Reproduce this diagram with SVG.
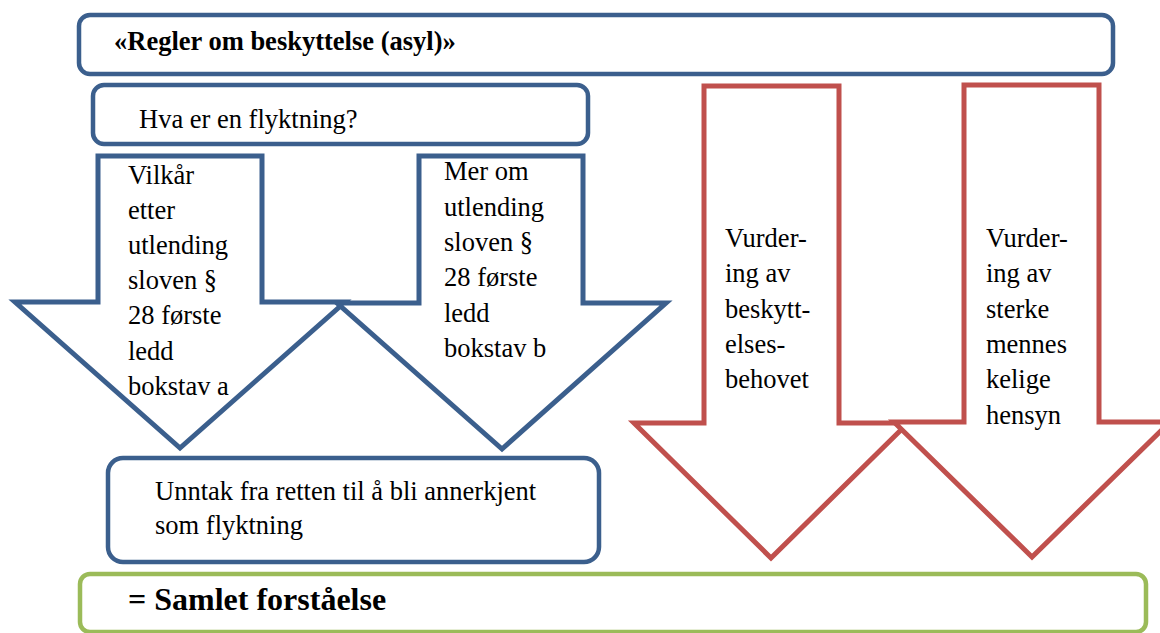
<svg xmlns="http://www.w3.org/2000/svg" width="1160" height="633" viewBox="0 0 1160 633" font-family="'Liberation Serif', 'DejaVu Serif', serif">
<style>
  .box { fill: #ffffff; stroke-width: 4.5; }
  .blue { stroke: #3B5F8D; }
  .red { stroke: #C0504D; }
  .green { stroke: #9BBB59; }
  .arrow { fill: #ffffff; stroke-width: 5; stroke-linejoin: miter; }
  text { font-family: 'Liberation Serif', 'DejaVu Serif', serif; font-size: 26.5px; fill: #000000; }
  .bold { font-weight: bold; }
  .big { font-size: 32px; font-weight: bold; }
</style>
<rect width="1160" height="633" fill="#ffffff"/>
<g id="connectors"></g>
<g id="title">
  <rect class="box blue" x="79" y="15" width="1034" height="59" rx="11"/>
  <text class="bold" x="114" y="50">«Regler om beskyttelse (asyl)»</text>
</g>
<g id="hva">
  <rect class="box blue" x="93" y="85" width="495" height="59" rx="11"/>
  <text x="139" y="128">Hva er en flyktning?</text>
</g>
<g id="arrow-a">
  <polygon class="arrow blue" points="98,156 262,156 262,302 345,302 180,448 15,302 98,302"/>
  <text x="128" y="183.5">Vilkår</text>
  <text x="128" y="218.7">etter</text>
  <text x="128" y="253.9">utlending</text>
  <text x="128" y="289.1">sloven §</text>
  <text x="128" y="324.3">28 første</text>
  <text x="128" y="359.5">ledd</text>
  <text x="128" y="394.7">bokstav a</text>
</g>
<g id="arrow-b">
  <polygon class="arrow blue" points="419,156 583,156 583,303 666,303 502,449 337,303 419,303"/>
  <text x="444" y="180.3">Mer om</text>
  <text x="444" y="215.6">utlending</text>
  <text x="444" y="250.9">sloven §</text>
  <text x="444" y="286.2">28 første</text>
  <text x="444" y="321.5">ledd</text>
  <text x="444" y="356.8">bokstav b</text>
</g>
<g id="arrow-beskyttelse">
  <polygon class="arrow red" points="704,86 839,86 839,423 908,423 771,558 634,423 704,423"/>
  <text x="725" y="246.7">Vurder-</text>
  <text x="725" y="282.1">ing av</text>
  <text x="725" y="317.5">beskytt-</text>
  <text x="725" y="352.9">elses-</text>
  <text x="725" y="388.3">behovet</text>
</g>
<g id="arrow-hensyn">
  <polygon class="arrow red" points="964,85 1099,85 1099,422 1170,422 1032,557 894,422 964,422"/>
  <text x="986" y="246.7">Vurder-</text>
  <text x="986" y="282.1">ing av</text>
  <text x="986" y="317.5">sterke</text>
  <text x="986" y="352.9">mennes</text>
  <text x="986" y="388.3">kelige</text>
  <text x="986" y="423.7">hensyn</text>
</g>
<g id="unntak">
  <rect class="box blue" x="108" y="458" width="491" height="104" rx="15"/>
  <text x="155" y="499.5">Unntak fra retten til å bli annerkjent</text>
  <text x="155" y="533.5">som flyktning</text>
</g>
<g id="samlet">
  <rect class="box green" x="80" y="574" width="1066" height="58" rx="10"/>
  <text class="big" x="128" y="610">= Samlet forståelse</text>
</g>
</svg>
